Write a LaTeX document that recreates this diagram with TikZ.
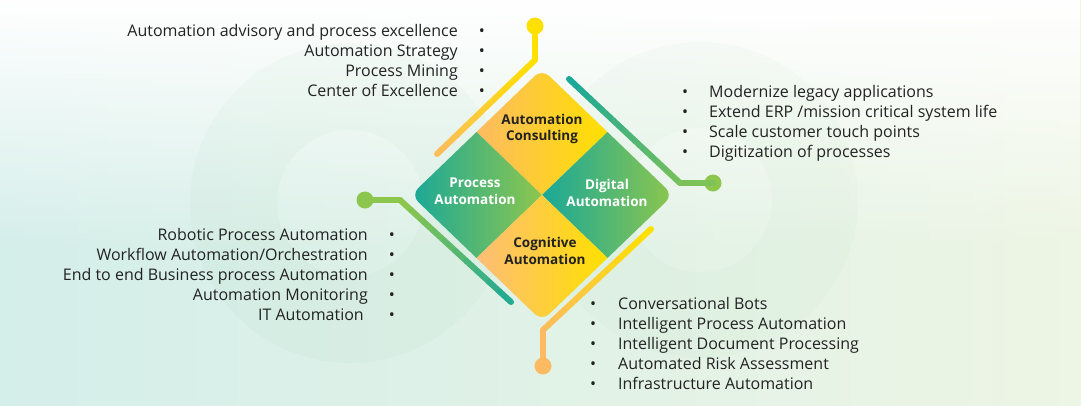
\documentclass[tikz,border=0pt]{standalone}
\usepackage{fontspec}
\setmainfont{Open Sans}
\usetikzlibrary{calc,fadings}

\definecolor{cyellow}{HTML}{FFE000}
\definecolor{corange}{HTML}{FCBB62}
\definecolor{cpeach}{HTML}{FDBD78}
\definecolor{cteal}{HTML}{1AA898}
\definecolor{cgreen}{HTML}{8DC64D}
\definecolor{ctext}{HTML}{222222}
\definecolor{bgleft}{HTML}{D4EEEA}
\definecolor{bgright}{HTML}{EDF5E4}

\tikzfading[name=fadedown, top color=transparent!0, bottom color=transparent!100]

\tikzset{
  item/.style={inner sep=0pt, text=ctext, font=\fontsize{16}{18}\selectfont},
  quad/.style={align=center, inner sep=0pt, font=\bfseries\fontsize{13.5}{16.5}\selectfont},
  wire/.style={line width=6pt, line cap=round, line join=round},
  dot/.style={circle, inner sep=0pt, minimum size=17pt},
}

% thick line from #1 to #2 fading from colour #3 to colour #4
\newcommand{\gradwire}[4]{%
  \foreach \i [evaluate=\i as \p using int(100-10*\i)] in {0,...,9}
    \draw[wire, draw=#3!\p!#4] ($(#1)!{\i/10}!(#2)$) -- ($(#1)!{(\i+1)/10}!(#2)$);
}

\begin{document}
\begin{tikzpicture}[x=1pt, y=-1pt, line join=round, line cap=round]
  % background
  \useasboundingbox (0,0) rectangle (1081,405);
  \shade[left color=bgleft, right color=bgright] (0,0) rectangle (1081,405);
  \fill[white, path fading=fadedown] (0,0) rectangle (1081,250);
  \fill[cgreen!50!cteal, fill opacity=0.035, even odd rule]
    (350,203) circle[radius=160] (350,203) circle[radius=73];
  \fill[cgreen!60!cteal, fill opacity=0.03, even odd rule]
    (700,200) circle[radius=158] (700,200) circle[radius=72];

  % diamond
  \coordinate (c) at (542,195);
  \coordinate (top) at (542,69);
  \coordinate (right) at (673,195);
  \coordinate (bot) at (542,321);
  \coordinate (left) at (411,195);
  \coordinate (tr) at ($(top)!.5!(right)$);
  \coordinate (tl) at ($(top)!.5!(left)$);
  \coordinate (br) at ($(bot)!.5!(right)$);
  \coordinate (bl) at ($(bot)!.5!(left)$);
  \begin{scope}
    \clip[rounded corners=10pt] (top) -- (right) -- (bot) -- (left) -- cycle;
    \shade[left color=corange, right color=cyellow] (top) -- (tr) -- (c) -- (tl) -- cycle;
    \shade[left color=cteal, right color=cgreen] (left) -- (tl) -- (c) -- (bl) -- cycle;
    \shade[left color=cteal, right color=cgreen] (right) -- (tr) -- (c) -- (br) -- cycle;
    \shade[left color=cpeach, right color=cyellow] (bot) -- (bl) -- (c) -- (br) -- cycle;
  \end{scope}
  \node[quad, text=ctext] (ac) at (542,129) {Automation\\Consulting};
  \node[quad, text=white] (pa) at (475,191) {Process\\Automation};
  \node[quad, text=white] (da) at (607,193) {Digital\\Automation};
  \node[quad, text=ctext] (ca) at (545,251) {Cognitive\\Automation};

  % connectors
  \node[dot, fill=cyellow] (dac) at (535,26) {};
  \coordinate (kac) at (535,60);
  \coordinate (eac) at (437,154);
  \draw[wire, cyellow] (dac.center) -- (kac);
  \gradwire{kac}{eac}{cyellow}{corange}

  \coordinate (eda) at (569,79);
  \coordinate (kda) at (680,183);
  \node[dot, fill=cgreen] (dda) at (713,183) {};
  \gradwire{eda}{kda}{cteal}{cgreen!85!cteal}
  \draw[wire, cgreen!85!cteal] (kda) -- (dda.center);

  \node[dot, fill=cgreen] (dpa) at (365,200) {};
  \coordinate (kpa) at (400,200);
  \coordinate (epa) at (511,302);
  \draw[wire, cgreen] (dpa.center) -- (kpa);
  \gradwire{kpa}{epa}{cgreen}{cteal}

  \coordinate (eca) at (651,229);
  \coordinate (kca) at (543,330);
  \node[dot, fill=corange] (dca) at (543,366) {};
  \gradwire{eca}{kca}{cyellow}{corange}
  \draw[wire, corange] (kca) -- (dca.center);

  % lists
  \foreach \t [count=\i] in {Automation advisory and process excellence,
      Automation Strategy, Process Mining, Center of Excellence} {
    \node[item, anchor=base east] (ac\i) at (458,{16+20*\i}) {\t};
    \node[item, anchor=base] (acb\i) at (482,{16+20*\i}) {•};
  }
  \foreach \t [count=\i] in {Modernize legacy applications,
      Extend ERP /mission critical system life, Scale customer touch points,
      Digitization of processes} {
    \node[item, anchor=base] (dab\i) at (685,{77+20*\i}) {•};
    \node[item, anchor=base west] (da\i) at (709,{77+20*\i}) {\t};
  }
  \foreach \t [count=\i] in {Robotic Process Automation,
      Workflow Automation/Orchestration, End to end Business process Automation,
      Automation Monitoring} {
    \node[item, anchor=base east] (pa\i) at (368,{220+20*\i}) {\t};
    \node[item, anchor=base] (pab\i) at (392,{220+20*\i}) {•};
  }
  \node[item, anchor=base east] (pa5) at (364,320) {IT Automation};
  \node[item, anchor=base] (pab5) at (392,320) {•};
  \foreach \t [count=\i] in {Conversational Bots, Intelligent Process Automation,
      Intelligent Document Processing, Automated Risk Assessment,
      Infrastructure Automation} {
    \node[item, anchor=base] (cab\i) at (593,{289+20*\i}) {•};
    \node[item, anchor=base west] (ca\i) at (618,{289+20*\i}) {\t};
  }
\end{tikzpicture}
\end{document}
